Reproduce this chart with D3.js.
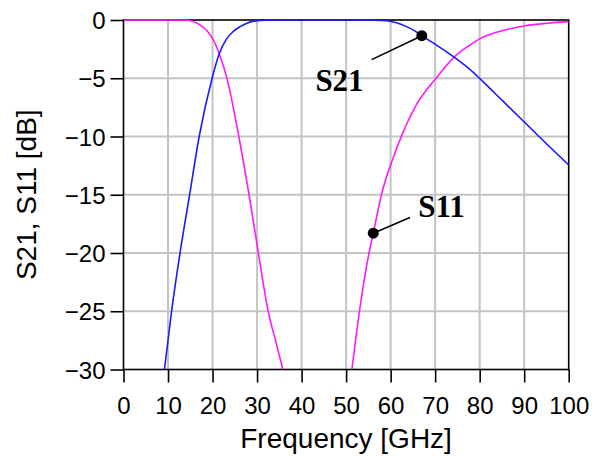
<!DOCTYPE html>
<html>
<head>
<meta charset="utf-8">
<script src="https://cdn.jsdelivr.net/npm/d3@7"></script>
<style>
  html, body { margin: 0; padding: 0; background: #fff; }
  svg { display: block; }
</style>
</head>
<body>
<svg id="chart" width="598" height="456"></svg>
<script>
// ---- data ----
const xTicks = [0, 10, 20, 30, 40, 50, 60, 70, 80, 90, 100];
const yTicks = [0, -5, -10, -15, -20, -25, -30];

const s21Freq = [9.2, 10.8, 12.7, 14.85, 17.0, 19.9, 21.5, 23.2, 24.6, 26.2, 27.6, 29.2, 32, 40, 50, 56, 59.1, 61.5, 63.6, 65.5, 67.0, 70.3, 74.5, 77.8, 80.1, 85.3, 90.2, 95, 100];
const s21dB   = [-30, -25, -20, -15, -10, -5, -2.9, -1.6, -1.0, -0.57, -0.3, -0.1, -0.02, 0, 0, -0.01, -0.06, -0.25, -0.57, -0.95, -1.35, -2.15, -3.25, -4.24, -5.05, -6.99, -8.82, -10.62, -12.45];

const s11Freq = [0, 10, 14, 15.5, 17.2, 18.7, 20.1, 21.5, 23.2, 25.9, 28.2, 30.3, 32.5, 34.2, 35.8, 51.3, 53.0, 55.2, 56.1, 58.0, 60.6, 62.5, 65.9, 70.3, 74.5, 77.8, 80.1, 85.3, 90.2, 95.1, 100];
const s11dB   = [0, 0, -0.02, -0.1, -0.43, -0.9, -1.65, -2.9, -4.95, -10, -15, -20, -25, -27.6, -30, -30, -25, -19.9, -18.3, -14.9, -11.8, -9.9, -7.2, -4.95, -3.1, -2.15, -1.6, -0.9, -0.5, -0.28, -0.14];
// the S11 trace is split into two visible branches (it dips below -30 between them)
const s11Split = 15;

const seriesNames = ["S21", "S11"];
const seriesColors = ["#1a1aff", "#ff19ff"];
// annotation: marker point, leader-line end, label text position (data units)
const markerFreq = [67.0, 56.1];
const markerdB   = [-1.35, -18.3];
const leaderFreq = [55.75, 64.35];
const leaderdB   = [-3.4, -16.95];
const labelFreq  = [43.1, 66.2];
const labeldB    = [-6.1, -16.9];

const xLabel = "Frequency [GHz]";
const yLabel = "S21, S11 [dB]";

// ---- layout ----
const W = 598, H = 456;
const m = { left: 123.5, top: 20, right: 29.3, bottom: 86.5 };
const pw = W - m.left - m.right, ph = H - m.top - m.bottom;

const svg = d3.select("#chart");
const x = d3.scaleLinear().domain([0, 100]).range([m.left, m.left + pw]);
const y = d3.scaleLinear().domain([-30, 0]).range([m.top + ph, m.top]);

// grid
const grid = svg.append("g").attr("stroke", "#c4c4c4").attr("stroke-width", 2);
grid.selectAll("line.v").data(xTicks.slice(1, -1)).join("line")
  .attr("x1", d => x(d)).attr("x2", d => x(d)).attr("y1", y(0)).attr("y2", y(-30));
grid.selectAll("line.h").data(yTicks.slice(1, -1)).join("line")
  .attr("y1", d => y(d)).attr("y2", d => y(d)).attr("x1", x(0)).attr("x2", x(100));

// frame
svg.append("rect").attr("x", x(0)).attr("y", y(0)).attr("width", pw).attr("height", ph)
  .attr("fill", "none").attr("stroke", "#000").attr("stroke-width", 1.6);

// axes
const fontSans = "'Liberation Sans', Arial, sans-serif";
const xAxis = svg.append("g").attr("transform", `translate(0,${y(-30)})`)
  .call(d3.axisBottom(x).tickValues(xTicks).tickSize(13).tickFormat(d3.format("d")));
xAxis.select(".domain").remove();
xAxis.selectAll(".tick line").attr("stroke", "#000").attr("stroke-width", 1.6);
xAxis.selectAll(".tick text").attr("y", 44).attr("dy", null)
  .attr("font-family", fontSans).attr("font-size", 24).attr("fill", "#000");

const yAxis = svg.append("g").attr("transform", `translate(${x(0)},0)`)
  .call(d3.axisLeft(y).tickValues(yTicks).tickSize(13).tickFormat(d3.format("d")));
yAxis.select(".domain").remove();
yAxis.selectAll(".tick line").attr("stroke", "#000").attr("stroke-width", 1.6);
yAxis.selectAll(".tick text").attr("x", -18).attr("dy", "0.36em")
  .attr("font-family", fontSans).attr("font-size", 24).attr("fill", "#000");

// axis titles
svg.append("text").attr("x", x(50)).attr("y", 448).attr("text-anchor", "middle")
  .attr("font-family", fontSans).attr("font-size", 28).attr("fill", "#000").text(xLabel);
svg.append("text").attr("transform", `translate(36,${y(-15)}) rotate(-90)`)
  .attr("text-anchor", "middle")
  .attr("font-family", fontSans).attr("font-size", 28).attr("fill", "#000").text(yLabel);

// curves
svg.append("clipPath").attr("id", "clip").append("rect")
  .attr("x", x(0)).attr("y", y(0) - 2).attr("width", pw).attr("height", ph + 2);
const line = d3.line().x(d => x(d[0])).y(d => y(d[1])).curve(d3.curveMonotoneX);
const curves = svg.append("g").attr("clip-path", "url(#clip)").attr("fill", "none")
  .attr("stroke-width", 1.6);

const s21 = s21Freq.map((f, i) => [f, s21dB[i]]);
const s11All = s11Freq.map((f, i) => [f, s11dB[i]]);
const s11a = s11All.slice(0, s11Split), s11b = s11All.slice(s11Split);

curves.append("path").attr("d", line(s11a)).attr("stroke", seriesColors[1]);
curves.append("path").attr("d", line(s11b)).attr("stroke", seriesColors[1]);
curves.append("path").attr("d", line(s21)).attr("stroke", seriesColors[0]);

// annotations
const ann = svg.append("g");
seriesNames.forEach((name, i) => {
  ann.append("line")
    .attr("x1", x(markerFreq[i])).attr("y1", y(markerdB[i]))
    .attr("x2", x(leaderFreq[i])).attr("y2", y(leaderdB[i]))
    .attr("stroke", "#000").attr("stroke-width", 1.6);
  ann.append("circle").attr("cx", x(markerFreq[i])).attr("cy", y(markerdB[i])).attr("r", 5.5)
    .attr("fill", "#000");
  ann.append("text").attr("x", x(labelFreq[i])).attr("y", y(labeldB[i]))
    .attr("font-family", "'Liberation Serif', 'Times New Roman', serif")
    .attr("font-weight", "bold").attr("font-size", 31).attr("fill", "#000").text(name);
});
</script>
</body>
</html>
